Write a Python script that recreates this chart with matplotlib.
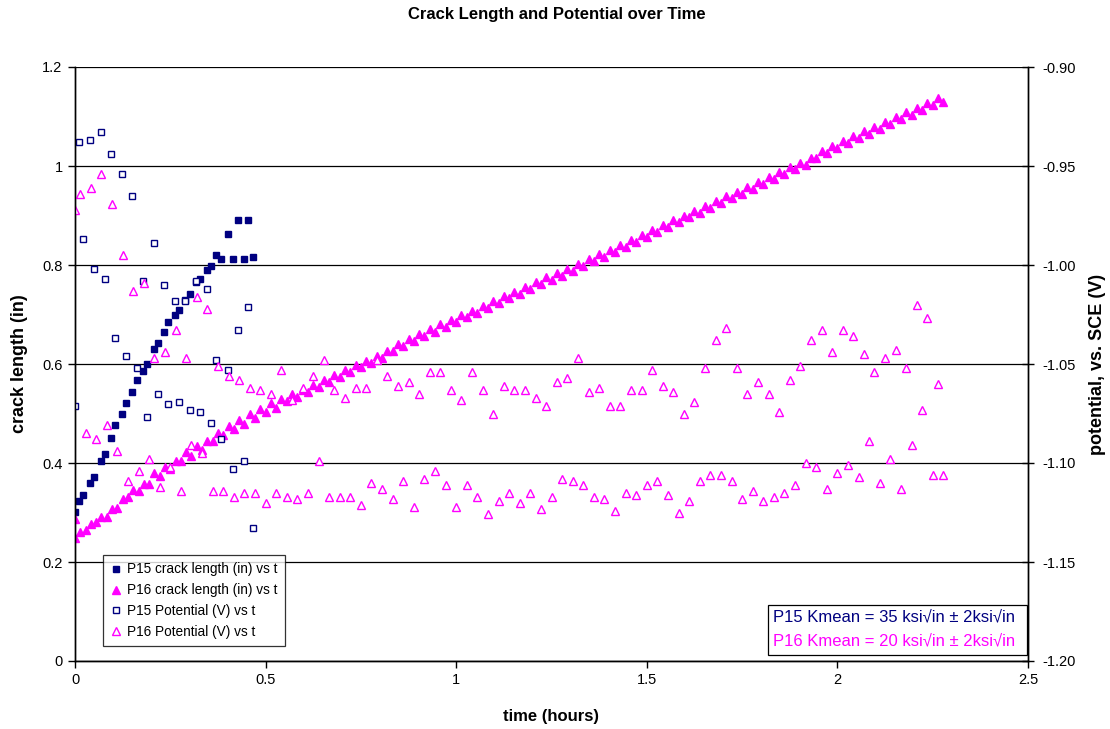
import numpy as np
import matplotlib
matplotlib.use('Agg')
import matplotlib.pyplot as plt
from matplotlib.lines import Line2D
from matplotlib.patches import Rectangle
from matplotlib.ticker import FuncFormatter

plt.rcParams['font.family'] = ['Liberation Sans', 'DejaVu Sans']

# P15 specimen (hours, inches, volts)
t15 = [0.000, 0.0105, 0.0218, 0.0394, 0.0499, 0.0675, 0.0780, 0.0945, 0.1058, 0.1226,
       0.1339, 0.1496, 0.1619, 0.1785, 0.1890, 0.2066, 0.2171, 0.2336, 0.2449, 0.2625,
       0.2730, 0.2895, 0.3010, 0.3176, 0.3281, 0.3457, 0.3570, 0.3701, 0.3840, 0.4008,
       0.4139, 0.4286, 0.4428, 0.4541, 0.4680]
crack15 = [0.302, 0.323, 0.335, 0.360, 0.372, 0.404, 0.418, 0.451, 0.477, 0.498,
           0.522, 0.543, 0.567, 0.586, 0.599, 0.630, 0.642, 0.665, 0.685, 0.700,
           0.710, 0.730, 0.742, 0.765, 0.771, 0.790, 0.797, 0.820, 0.813, 0.863,
           0.813, 0.890, 0.813, 0.890, 0.816]
pot15 = [-1.071, -0.938, -0.987, -0.937, -1.002, -0.933, -1.007, -0.944, -1.037, -0.954,
         -1.046, -0.965, -1.052, -1.008, -1.077, -0.989, -1.065, -1.010, -1.070, -1.018,
         -1.069, -1.018, -1.073, -1.008, -1.074, -1.012, -1.080, -1.048, -1.088, -1.053,
         -1.103, -1.033, -1.099, -1.021, -1.133]

# P16 specimen - logged every 50 s (first crack reading at t=0 was taken twice)
sample_hr = 50.0 / 3600.0
crack16_start = [0.287]
crack16 = [0.248, 0.260, 0.265, 0.277, 0.281, 0.291, 0.290, 0.307, 0.310, 0.327,
           0.331, 0.345, 0.344, 0.358, 0.357, 0.379, 0.374, 0.391, 0.388, 0.404,
           0.404, 0.423, 0.415, 0.435, 0.426, 0.445, 0.445, 0.460, 0.456, 0.475,
           0.468, 0.486, 0.479, 0.498, 0.490, 0.510, 0.503, 0.522, 0.512, 0.529,
           0.525, 0.539, 0.534, 0.548, 0.544, 0.558, 0.554, 0.568, 0.564, 0.578,
           0.573, 0.587, 0.583, 0.597, 0.593, 0.607, 0.603, 0.617, 0.612, 0.626,
           0.626, 0.640, 0.636, 0.650, 0.646, 0.661, 0.656, 0.670, 0.665, 0.680,
           0.675, 0.689, 0.685, 0.699, 0.695, 0.708, 0.704, 0.718, 0.714, 0.728,
           0.724, 0.737, 0.733, 0.746, 0.742, 0.756, 0.752, 0.766, 0.762, 0.775,
           0.769, 0.783, 0.778, 0.792, 0.788, 0.802, 0.798, 0.812, 0.808, 0.822,
           0.817, 0.831, 0.827, 0.841, 0.837, 0.851, 0.847, 0.861, 0.856, 0.870,
           0.866, 0.880, 0.876, 0.890, 0.886, 0.900, 0.896, 0.909, 0.905, 0.919,
           0.915, 0.929, 0.925, 0.939, 0.935, 0.948, 0.944, 0.958, 0.954, 0.968,
           0.964, 0.978, 0.974, 0.988, 0.983, 0.997, 0.993, 1.007, 1.003, 1.017,
           1.017, 1.031, 1.027, 1.041, 1.036, 1.050, 1.046, 1.060, 1.056, 1.070,
           1.065, 1.079, 1.075, 1.089, 1.085, 1.099, 1.095, 1.109, 1.104, 1.118,
           1.114, 1.128, 1.124, 1.138, 1.129]
pot16 = [-0.972, -0.964, -1.085, -0.961, -1.088, -0.954, -1.081, -0.969, -1.094, -0.995,
         -1.109, -1.013, -1.104, -1.009, -1.098, -1.047, -1.112, -1.044, -1.102, -1.033,
         -1.114, -1.047, -1.091, -1.016, -1.095, -1.022, -1.114, -1.051, -1.114, -1.056,
         -1.117, -1.058, -1.115, -1.062, -1.115, -1.063, -1.120, -1.065, -1.115, -1.053,
         -1.117, -1.068, -1.118, -1.062, -1.115, -1.056, -1.099, -1.048, -1.117, -1.063,
         -1.117, -1.067, -1.117, -1.062, -1.121, -1.062, -1.110, -1.048, -1.113, -1.056,
         -1.118, -1.061, -1.109, -1.059, -1.122, -1.065, -1.108, -1.054, -1.104, -1.054,
         -1.111, -1.063, -1.122, -1.068, -1.111, -1.054, -1.117, -1.063, -1.126, -1.075,
         -1.119, -1.061, -1.115, -1.063, -1.120, -1.063, -1.115, -1.067, -1.123, -1.071,
         -1.117, -1.059, -1.108, -1.057, -1.109, -1.047, -1.111, -1.064, -1.117, -1.062,
         -1.118, -1.071, -1.124, -1.071, -1.115, -1.063, -1.116, -1.063, -1.111, -1.053,
         -1.109, -1.061, -1.116, -1.064, -1.125, -1.075, -1.119, -1.069, -1.109, -1.052,
         -1.106, -1.038, -1.106, -1.032, -1.109, -1.052, -1.118, -1.065, -1.114, -1.059,
         -1.119, -1.065, -1.117, -1.074, -1.115, -1.058, -1.111, -1.051, -1.100, -1.038,
         -1.102, -1.033, -1.113, -1.044, -1.105, -1.033, -1.101, -1.036, -1.107, -1.045,
         -1.089, -1.054, -1.110, -1.047, -1.098, -1.043, -1.113, -1.052, -1.091, -1.020,
         -1.073, -1.027, -1.106, -1.060, -1.106]
t16 = np.arange(len(crack16)) * sample_hr

legend_labels = ["P15 crack length (in) vs t", "P16 crack length (in) vs t",
                 "P15 Potential (V) vs t", "P16 Potential (V) vs t"]
note_lines = ["P15 Kmean = 35 ksi\u221ain \u00b1 2ksi\u221ain",
              "P16 Kmean = 20 ksi\u221ain \u00b1 2ksi\u221ain"]

navy = '#000080'
magenta = '#FF00FF'

fig = plt.figure(figsize=(11.1, 7.29), dpi=100)
ax = fig.add_axes([75/1110, 1-661/729, (1028-75)/1110, (661-67)/729])
ax2 = ax.twinx()

ax.plot(t15, crack15, ls='none', marker='s', ms=4.5, color=navy, mec=navy)
ax.plot(np.concatenate([[0.0], t16]), crack16_start + crack16, ls='none', marker='^', ms=5.4,
        color=magenta, mec=magenta)
ax2.plot(t15, pot15, ls='none', marker='s', ms=4.3, mfc='white', mec=navy, mew=1.0)
ax2.plot(t16, pot16, ls='none', marker='^', ms=5.2, mfc='white', mec=magenta, mew=1.0)

ax.set_xlim(0, 2.5)
ax.set_ylim(0, 1.2)
ax2.set_ylim(-1.2, -0.9)
ax.set_xticks(np.arange(0, 2.51, 0.5))
ax.set_yticks(np.arange(0, 1.21, 0.2))
ax2.set_yticks(np.arange(-1.2, -0.899, 0.05))
ax.xaxis.set_major_formatter(FuncFormatter(lambda v, p: '%g' % round(v, 2)))
ax.yaxis.set_major_formatter(FuncFormatter(lambda v, p: '%g' % round(v, 2)))
ax2.yaxis.set_major_formatter(FuncFormatter(lambda v, p: '%.2f' % v))

ax.yaxis.grid(True, color='black', lw=0.9)
ax.set_axisbelow(True)
for a in (ax, ax2):
    a.spines['top'].set_visible(False)
    for s in a.spines.values():
        s.set_linewidth(1.0)
ax.tick_params(axis='both', direction='out', length=5, width=1, labelsize=10.5, pad=4)
ax2.tick_params(axis='y', direction='inout', length=8, width=1, labelsize=10.5, pad=6)

fig.text(557/1110, 1-14/729, "Crack Length and Potential over Time", ha='center', va='center',
         fontsize=12, fontweight='bold')
fig.text(551/1110, 1-716/729, "time (hours)", ha='center', va='center', fontsize=12, fontweight='bold')
fig.text(20/1110, 1-364/729, "crack length (in)", ha='center', va='center', rotation=90,
         fontsize=13, fontweight='bold')
fig.text(1097/1110, 1-364/729, "potential, vs. SCE (V)", ha='center', va='center', rotation=90,
         fontsize=13, fontweight='bold')

handles = [Line2D([], [], ls='none', marker='s', ms=4.3, color=navy),
           Line2D([], [], ls='none', marker='^', ms=5.2, color=magenta),
           Line2D([], [], ls='none', marker='s', ms=4.3, mfc='white', mec=navy),
           Line2D([], [], ls='none', marker='^', ms=5.2, mfc='white', mec=magenta)]
leg = ax2.legend(handles, legend_labels, loc='upper left', bbox_to_anchor=(103/1110, 1-555/729),
                 bbox_transform=fig.transFigure, borderaxespad=0, fontsize=9.8, frameon=True,
                 fancybox=False, edgecolor='black', handlelength=0.8, handletextpad=0.4,
                 labelspacing=0.5, borderpad=0.55)
leg.get_frame().set_linewidth(0.9)

fig.add_artist(Rectangle((768/1110, 1-655/729), (1027-768)/1110, 50/729, transform=fig.transFigure,
                         facecolor='white', edgecolor='black', lw=0.9, zorder=5))
fig.text(773/1110, 1-617/729, note_lines[0], color=navy, fontsize=12, va='center', zorder=6)
fig.text(773/1110, 1-641/729, note_lines[1], color=magenta, fontsize=12, va='center', zorder=6)

fig.savefig('out.png', dpi=100)
